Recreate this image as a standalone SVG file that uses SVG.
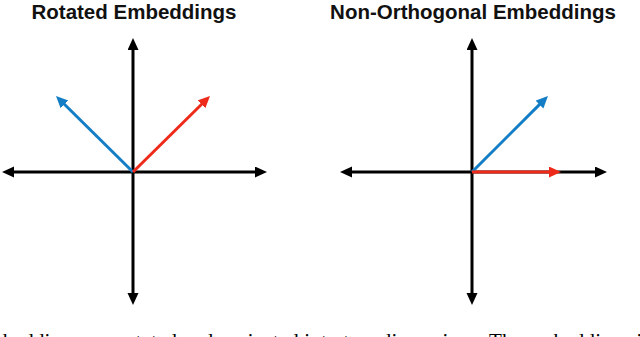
<svg xmlns="http://www.w3.org/2000/svg" width="640" height="337" viewBox="0 0 640 337">
<style>
.title{font-family:"Liberation Sans",Arial,sans-serif;font-weight:bold;font-size:20.5px;fill:#111;text-anchor:middle}
.axis{stroke:#000;stroke-width:3;fill:none}
.blue{stroke:#137DC5;stroke-width:3;fill:none}
.red{stroke:#EE2A1B;stroke-width:3;fill:none}
.body{font-family:"Liberation Serif","Times New Roman",serif;font-size:21px;fill:#000}
</style>
<defs>
<marker id="ak" markerUnits="userSpaceOnUse" markerWidth="14" markerHeight="12" refX="2" refY="5.5" orient="auto-start-reverse" viewBox="0 0 14 12"><path d="M0,0 L12,5.5 L0,11 z" fill="#000"/></marker>
<marker id="ab" markerUnits="userSpaceOnUse" markerWidth="14" markerHeight="12" refX="2" refY="5.5" orient="auto" viewBox="0 0 14 12"><path d="M0,0 L12,5.5 L0,11 z" fill="#137DC5"/></marker>
<marker id="ar" markerUnits="userSpaceOnUse" markerWidth="14" markerHeight="12" refX="2" refY="5.5" orient="auto" viewBox="0 0 14 12"><path d="M0,0 L12,5.5 L0,11 z" fill="#EE2A1B"/></marker>
</defs>
<g id="title-rotated"><text class="title" x="134" y="18.5">Rotated Embeddings</text></g>
<g id="title-nonorth"><text class="title" x="473" y="18.5">Non-Orthogonal Embeddings</text></g>
<g id="connectors">
<line class="axis" x1="133" y1="48" x2="133" y2="295" marker-start="url(#ak)" marker-end="url(#ak)"/>
<line class="axis" x1="12" y1="172" x2="257" y2="172" marker-start="url(#ak)" marker-end="url(#ak)"/>
<line class="blue" x1="133" y1="172" x2="63.1" y2="103" marker-end="url(#ab)"/>
<line class="red" x1="133" y1="172" x2="202.9" y2="103" marker-end="url(#ar)"/>
<line class="axis" x1="472" y1="48" x2="472" y2="295" marker-start="url(#ak)" marker-end="url(#ak)"/>
<line class="axis" x1="350" y1="172" x2="597" y2="172" marker-start="url(#ak)" marker-end="url(#ak)"/>
<line class="blue" x1="472" y1="172" x2="540.9" y2="103.1" marker-end="url(#ab)"/>
<line class="red" x1="472" y1="172" x2="551" y2="172" marker-end="url(#ar)"/>
</g>
<text class="body" x="3" y="348" textLength="650" lengthAdjust="spacing">beddings are rotated and projected into two dimensions. The embeddings in</text>
</svg>
